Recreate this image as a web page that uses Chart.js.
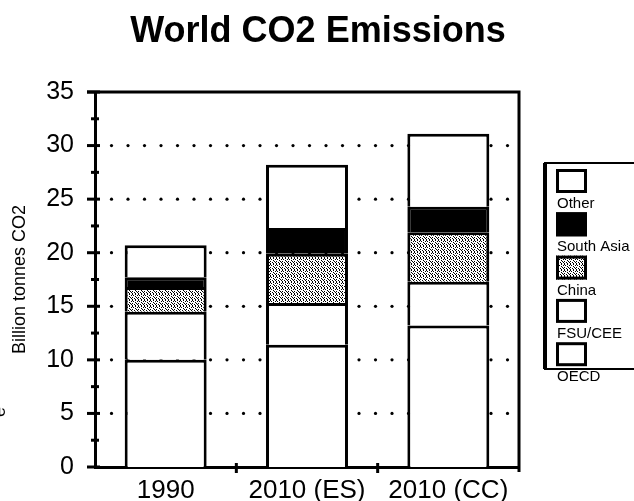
<!DOCTYPE html>
<html>
<head>
<meta charset="utf-8">
<script src="https://cdn.jsdelivr.net/npm/chart.js@4.4.1/dist/chart.umd.min.js"></script>
<style>
  body { margin: 0; background: #fff; }
  #co2Chart { display: block; }
</style>
</head>
<body>
<canvas id="co2Chart" width="634" height="501"></canvas>
<script>
// data
const categories = ["1990", "2010 (ES)", "2010 (CC)"];
const oecd = [10.0, 11.4, 13.2];
const fsuCee = [4.5, 3.9, 4.1];
const china = [2.3, 4.6, 4.6];
const southAsia = [0.9, 2.4, 2.4];
const other = [3.0, 5.9, 6.8];
const yMin = 0;
const yMax = 35;
const yStep = 5;

const FONT = "'Liberation Sans', Arial, Helvetica, sans-serif";

document.addEventListener("DOMContentLoaded", function () {
  const canvas = document.getElementById("co2Chart");
  const ctx = canvas.getContext("2d");

  // stippled gray fill for China
  function makeStipple() {
    const p = document.createElement("canvas");
    p.width = 6;
    p.height = 6;
    const pc = p.getContext("2d");
    pc.fillStyle = "#fff";
    pc.fillRect(0, 0, 6, 6);
    pc.fillStyle = "#000";
    [[0, 0], [3, 0], [1, 1], [5, 1], [3, 2], [0, 3], [4, 3],
     [2, 4], [5, 4], [0, 5], [3, 5]].forEach(([x, y]) => pc.fillRect(x, y, 1, 1));
    return ctx.createPattern(p, "repeat");
  }
  const stipple = makeStipple();

  /* ===== extra drawing: title, dotted grid, frame, cross ticks, legend ===== */
  const extrasPlugin = {
    id: "extras",
    beforeDatasetsDraw(chart) {
      const c = chart.ctx;
      const a = chart.chartArea;
      const y = chart.scales.y;
      const gap = 16.5;
      c.save();
      c.fillStyle = "#000";
      y.ticks.forEach((t) => {
        if (t.value <= yMin || t.value >= yMax) return;
        const py = y.getPixelForValue(t.value);
        for (let px = a.left + gap; px < a.right - 6; px += gap) {
          c.beginPath();
          c.arc(px, py, 1.6, 0, Math.PI * 2);
          c.fill();
        }
      });
      c.restore();
    },
    afterDraw(chart) {
      const c = chart.ctx;
      const a = chart.chartArea;
      const x = chart.scales.x;
      const y = chart.scales.y;
      c.save();

      // title
      c.fillStyle = "#000";
      c.font = "bold 36px " + FONT;
      c.textAlign = "center";
      c.textBaseline = "alphabetic";
      c.fillText("World CO2 Emissions", 318, 42);
      c.textAlign = "left";

      c.strokeStyle = "#000";
      c.lineWidth = 3;

      // frame top + right
      c.beginPath();
      c.moveTo(a.left - 8, a.top);
      c.lineTo(a.right, a.top);
      c.lineTo(a.right, a.bottom + 5);
      c.stroke();

      // y ticks, major and minor, crossing the axis
      y.ticks.forEach((t) => {
        const py = y.getPixelForValue(t.value);
        c.beginPath();
        c.moveTo(a.left - 8, py);
        c.lineTo(a.left + 5, py);
        c.stroke();
        if (t.value + yStep / 2 < yMax) {
          const pm = y.getPixelForValue(t.value + yStep / 2);
          c.beginPath();
          c.moveTo(a.left - 4, pm);
          c.lineTo(a.left + 4, pm);
          c.stroke();
        }
      });

      // x ticks between categories
      for (let i = 0; i < categories.length - 1; i++) {
        const px = x.getPixelForValue(i + 0.5);
        c.beginPath();
        c.moveTo(px, a.bottom - 4);
        c.lineTo(px, a.bottom + 6);
        c.stroke();
      }

      // legend box (swatch above its label, top of stack first)
      const lx = 545, ly = 163, lb = 369;
      c.lineWidth = 2;
      c.strokeRect(lx, ly, 120, lb - ly);
      c.lineWidth = 4;
      c.beginPath();
      c.moveTo(lx, ly);
      c.lineTo(lx, lb);
      c.stroke();
      c.font = "15px " + FONT;
      chart.data.datasets.slice().reverse().forEach((ds, i) => {
        const top = ly + 6 + i * 43.3;
        c.fillStyle = ds.backgroundColor;
        c.fillRect(556, top, 31, 24);
        c.lineWidth = 3;
        c.strokeRect(557.5, top + 1.5, 28, 21);
        c.fillStyle = "#000";
        c.fillText(ds.label, 557, top + 39);
      });

      // stray glyph at the left edge
      c.translate(5, 412);
      c.rotate(-Math.PI / 2);
      c.font = "18px " + FONT;
      c.textAlign = "center";
      c.fillText("e", 0, 0);
      c.restore();
    },
  };

  function seg(label, data, color) {
    return {
      label: label,
      data: data,
      backgroundColor: color,
      borderColor: "#000",
      borderWidth: 3,
      barPercentage: 0.58,
      categoryPercentage: 1.0,
    };
  }

  new Chart(ctx, {
    type: "bar",
    data: {
      labels: categories,
      datasets: [
        seg("OECD", oecd, "#fff"),
        seg("FSU/CEE", fsuCee, "#fff"),
        seg("China", china, stipple),
        seg("South Asia", southAsia, "#000"),
        seg("Other", other, "#fff"),
      ],
    },
    options: {
      responsive: false,
      animation: false,
      layout: { padding: { left: 0, right: 115, top: 92, bottom: 0 } },
      plugins: {
        legend: { display: false },
        tooltip: { enabled: false },
        title: { display: false },
      },
      scales: {
        x: {
          stacked: true,
          grid: { display: false },
          border: { display: true, color: "#000", width: 3 },
          ticks: {
            color: "#000",
            font: { family: FONT, size: 26 },
            padding: 0,
            maxRotation: 0,
            autoSkip: false,
          },
          afterFit: function (s) {
            s.height = 34;
          },
        },
        y: {
          stacked: true,
          min: yMin,
          max: yMax,
          grid: { display: false },
          border: { display: true, color: "#000", width: 3 },
          ticks: {
            stepSize: yStep,
            color: "#000",
            font: { family: FONT, size: 25 },
            padding: 13,
          },
          title: {
            display: true,
            text: "Billion tonnes CO2",
            color: "#000",
            font: { family: FONT, size: 18 },
            padding: { top: 9, bottom: 0 },
          },
          afterFit: function (s) {
            s.width = 95;
          },
        },
      },
    },
    plugins: [extrasPlugin],
  });
});
</script>
</body>
</html>
